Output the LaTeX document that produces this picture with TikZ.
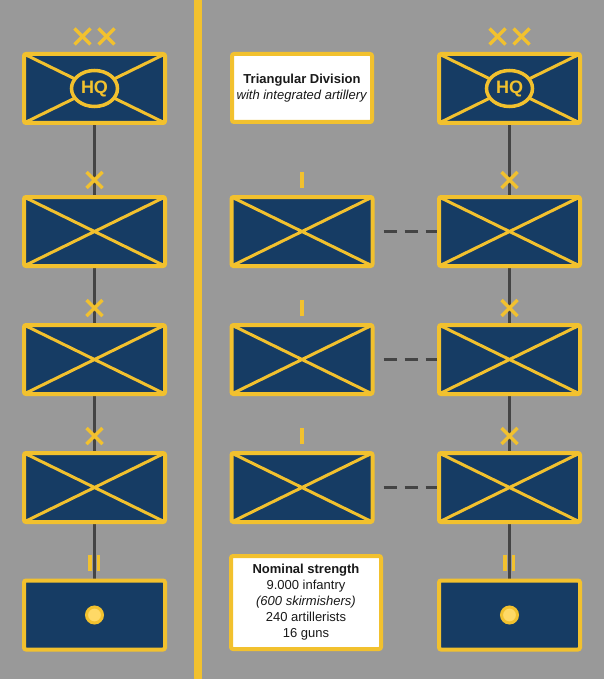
\documentclass[tikz,border=0pt]{standalone}
\usepackage{xcolor}
\usepackage{fontspec}
\setmainfont{Liberation Sans}
\usepackage{tikz}
\usetikzlibrary{shapes.geometric, backgrounds}
\definecolor{armynavy}{HTML}{163C64}
\definecolor{armygold}{HTML}{F2C12E}
\definecolor{goldlight}{HTML}{FFD966}
\definecolor{fieldgray}{HTML}{999999}
\definecolor{linkgray}{HTML}{444444}

\begin{document}
\begin{tikzpicture}[
    x=1pt,y=-1pt,
    unit/.style={draw=armygold,fill=armynavy,line width=4pt,rounded corners=2pt,
      minimum width=141pt,minimum height=69pt,inner sep=0pt},
    infantry/.style={unit,path picture={
        \draw[armygold,line width=3pt]
          (path picture bounding box.north west) -- (path picture bounding box.south east)
          (path picture bounding box.south west) -- (path picture bounding box.north east);}},
    hqtag/.style={ellipse,draw=armygold,fill=armynavy,line width=3.5pt,inner sep=0pt,
      minimum width=46pt,minimum height=36pt,text=armygold,font=\fontsize{18}{18}\selectfont\bfseries},
    gun/.style={circle,draw=armygold,fill=goldlight,line width=3pt,minimum size=16pt,inner sep=0pt},
    note/.style={draw=armygold,fill=white,line width=4pt,rounded corners=2pt,align=center,
      text=black!90,font=\fontsize{13}{16}\selectfont,inner sep=0pt},
    echelon/.style={draw=armygold,line width=3.5pt},
    bar/.style={draw=armygold,line width=3.5pt},
    link/.style={draw=linkgray,line width=3.5pt},
    dashlink/.style={draw=linkgray,line width=3pt,dash pattern=on 13pt off 8pt,shorten <=9pt}
  ]

  \useasboundingbox (0,0) rectangle (604,679);

  % divider between the two halves
  \draw[armygold,line width=8pt] (198,0) -- (198,679);

  % headquarters
  \node[infantry] (hqL) at (94.5,88.5) {};
  \node[infantry] (hqR) at (509.5,88.5) {};
  \node[hqtag] (hqLtag) at (hqL) {HQ};
  \node[hqtag] (hqRtag) at (hqR) {HQ};
  \node[note,minimum width=140pt,minimum height=68pt] (title) at (302,88) {%
    \textbf{Triangular Division}\\\textit{with integrated artillery}};

  % brigades and regiments
  \foreach \i/\y in {1/231.5,2/359.5,3/487.5} {
    \node[infantry] (bdeL\i) at (94.5,\y) {};
    \node[infantry] (rgt\i) at (302,\y) {};
    \node[infantry] (bdeR\i) at (509.5,\y) {};
    \draw[echelon] ([yshift=15pt]bdeL\i.north) +(-8,-8) -- +(8,8) +(-8,8) -- +(8,-8);
    \draw[echelon] ([yshift=15pt]bdeR\i.north) +(-8,-8) -- +(8,8) +(-8,8) -- +(8,-8);
    \draw[bar] ([yshift=15pt]rgt\i.north) +(0,-8) -- +(0,8);
  }

  % artillery
  \node[unit] (artL) at (94.5,615) {};
  \node[unit] (artR) at (509.5,615) {};
  \node[gun] (gunL) at (artL) {};
  \node[gun] (gunR) at (artR) {};
  \node[note,minimum width=150pt,minimum height=93pt] (strength) at (306,602.5) {%
    \textbf{Nominal strength}\\9.000 infantry\\\textit{(600 skirmishers)}\\240 artillerists\\16 guns};

  % echelon marks on the command boxes
  \foreach \n in {hqL,hqR} {
    \draw[echelon] ([xshift=-12pt,yshift=15.5pt]\n.north) +(-8,-8) -- +(8,8) +(-8,8) -- +(8,-8);
    \draw[echelon] ([xshift=12pt,yshift=15.5pt]\n.north) +(-8,-8) -- +(8,8) +(-8,8) -- +(8,-8);
  }
  \foreach \n in {artL,artR} {
    \draw[bar] ([xshift=-4.5pt,yshift=16pt]\n.north) +(0,-8) -- +(0,8);
    \draw[bar] ([xshift=4pt,yshift=16pt]\n.north) +(0,-8) -- +(0,8);
  }

  \begin{scope}[on background layer]
    \fill[fieldgray] (0,0) rectangle (604,679);
    \draw[link] (hqL) -- (artL);
    \draw[link] (hqR) -- (artR);
    \foreach \i in {1,2,3}
      \draw[dashlink] (rgt\i) -- (bdeR\i);
  \end{scope}
\end{tikzpicture}
\end{document}
